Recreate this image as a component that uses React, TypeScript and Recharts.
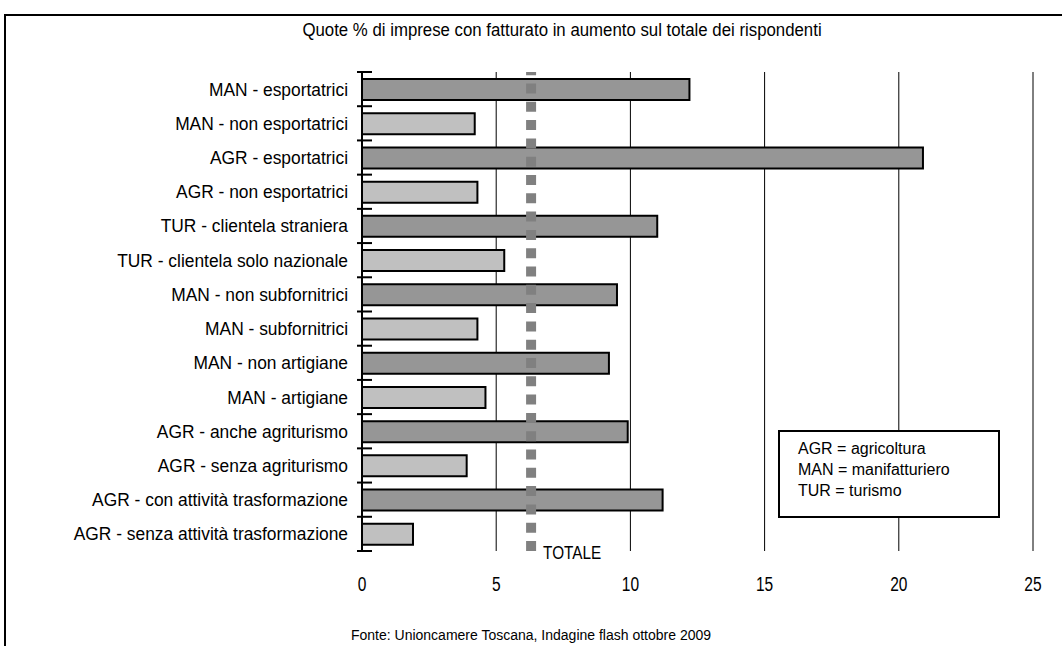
import { BarChart, Bar, XAxis, YAxis, CartesianGrid, ReferenceLine, Cell } from "recharts";

const categories = [
  "MAN - esportatrici",
  "MAN - non esportatrici",
  "AGR - esportatrici",
  "AGR - non esportatrici",
  "TUR - clientela straniera",
  "TUR - clientela solo nazionale",
  "MAN - non subfornitrici",
  "MAN - subfornitrici",
  "MAN - non artigiane",
  "MAN - artigiane",
  "AGR - anche agriturismo",
  "AGR - senza agriturismo",
  "AGR - con attività trasformazione",
  "AGR - senza attività trasformazione",
];

const quote = [12.2, 4.2, 20.9, 4.3, 11.0, 5.3, 9.5, 4.3, 9.2, 4.6, 9.9, 3.9, 11.2, 1.9];

const totale = 6.3;

const xTicks = [0, 5, 10, 15, 20, 25];

const legendLines = ["AGR = agricoltura", "MAN = manifatturiero", "TUR = turismo"];

const data = categories.map((name, i) => ({ name, value: quote[i] }));

const FONT = "'Liberation Sans', Arial, sans-serif";
const W = 1062;
const H = 646;
const TOP = 72;
const BOTTOM = 95;
const BAND = (H - TOP - BOTTOM) / categories.length;

// no narrow font available, so squeeze the glyphs
const NarrowText = ({ x, y, sx, size, anchor, children }: any) => (
  <text
    transform={`translate(${x},${y}) scale(${sx},1)`}
    textAnchor={anchor}
    fontFamily={FONT}
    fontSize={size}
    fill="#000"
  >
    {children}
  </text>
);

const CategoryTick = (props: any) => {
  const { x, y, payload, index } = props;
  const axisX = x + 10;
  return (
    <g>
      <NarrowText x={axisX - 16} y={y + 6.5} sx={0.94} size={18.5} anchor="end">
        {payload.value}
      </NarrowText>
      <line x1={axisX - 7} x2={axisX + 8} y1={y - BAND / 2} y2={y - BAND / 2} stroke="#000" strokeWidth={2} />
      {index === categories.length - 1 && (
        <line x1={axisX - 7} x2={axisX + 8} y1={y + BAND / 2} y2={y + BAND / 2} stroke="#000" strokeWidth={2} />
      )}
    </g>
  );
};

const ValueTick = (props: any) => {
  const { x, y, payload } = props;
  return (
    <NarrowText x={x} y={y + 32} sx={0.74} size={21} anchor="middle">
      {payload.value}
    </NarrowText>
  );
};

const TotaleLabel = (props: any) => {
  const { viewBox } = props;
  return (
    <NarrowText x={viewBox.x + 12} y={viewBox.y + viewBox.height + 8} sx={0.85} size={18} anchor="start">
      TOTALE
    </NarrowText>
  );
};

export default function App() {
  return (
    <div style={{ position: "absolute", left: 0, top: 0, width: W, height: H, background: "#fff", overflow: "hidden" }}>
      <div
        style={{
          position: "absolute",
          left: 4,
          top: 14,
          width: W + 20,
          height: H + 20,
          border: "2px solid #000",
        }}
      />
      <div
        style={{
          position: "absolute",
          left: 31,
          width: W,
          top: 20,
          textAlign: "center",
          fontFamily: FONT,
          fontSize: 17.5,
          transform: "scaleX(0.96)",
          transformOrigin: "531px 0",
        }}
      >
        Quote % di imprese con fatturato in aumento sul totale dei rispondenti
      </div>
      <div style={{ position: "absolute", left: 0, top: 0 }}>
        <BarChart
          width={W}
          height={H}
          data={data}
          layout="vertical"
          margin={{ top: TOP, right: 29, bottom: 55, left: 10 }}
        >
          <CartesianGrid horizontal={false} stroke="#000" strokeWidth={1} />
          <XAxis
            type="number"
            domain={[0, 25]}
            ticks={xTicks}
            axisLine={false}
            tickLine={false}
            height={40}
            tick={<ValueTick />}
          />
          <YAxis
            type="category"
            dataKey="name"
            width={352}
            axisLine={{ stroke: "#000", strokeWidth: 2 }}
            tickLine={false}
            tick={<CategoryTick />}
            interval={0}
          />
          <Bar dataKey="value" barSize={21} stroke="#000" strokeWidth={2} isAnimationActive={false}>
            {data.map((d, i) => (
              <Cell key={d.name} fill={i % 2 === 0 ? "#969696" : "#c0c0c0"} />
            ))}
          </Bar>
          <ReferenceLine
            x={totale}
            stroke="#808080"
            strokeWidth={10}
            strokeDasharray="10 8.3"
            label={<TotaleLabel />}
          />
        </BarChart>
      </div>
      <div
        style={{
          position: "absolute",
          left: 778,
          top: 430,
          width: 222,
          height: 88,
          border: "2px solid #000",
          background: "#fff",
          fontFamily: FONT,
          fontSize: 16,
          lineHeight: "21px",
          padding: "6px 0 0 18px",
          boxSizing: "border-box",
        }}
      >
        {legendLines.map((l) => (
          <div key={l}>{l}</div>
        ))}
      </div>
      <div
        style={{
          position: "absolute",
          left: 0,
          width: W,
          top: 627,
          textAlign: "center",
          fontFamily: FONT,
          fontSize: 14,
        }}
      >
        Fonte: Unioncamere Toscana, Indagine flash ottobre 2009
      </div>
    </div>
  );
}
